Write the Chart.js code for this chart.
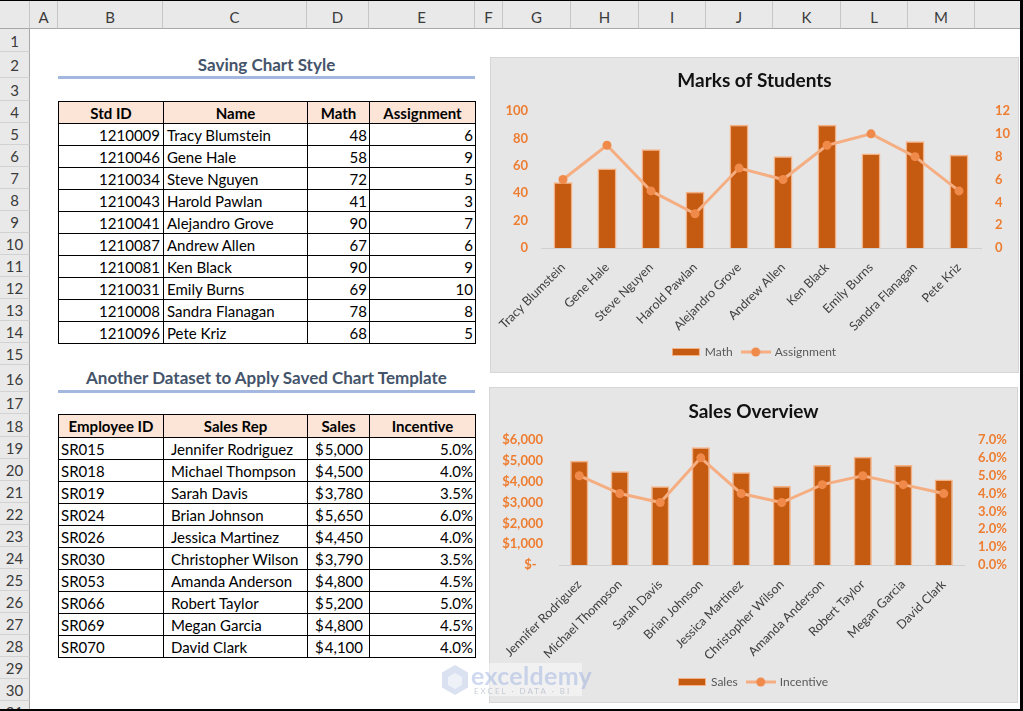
<!DOCTYPE html>
<html>
<head>
<meta charset="utf-8">
<script src="https://cdn.jsdelivr.net/npm/chart.js@4.4.0/dist/chart.umd.min.js"></script>
<style>
html, body { margin: 0; padding: 0; background: #fff; }
#sheet { position: relative; width: 1023px; height: 711px; overflow: hidden; font-family: Lato, 'Noto Sans', sans-serif; }
.hd { position: absolute; box-sizing: border-box; background: #e9e9e9; color: #3b3b3b; font-size: 15px; text-align: center; }
.cell { position: absolute; box-sizing: border-box; border: 1px solid #000; font-size: 15px; color: #000; white-space: nowrap; overflow: hidden; }
.th { background: #fce4d6; font-weight: bold; text-align: center; }
.title { position: absolute; box-sizing: border-box; color: #44546a; font-weight: bold; font-size: 17px; text-align: center; border-bottom: 3px solid #a4b7df; }
.chartbox { position: absolute; background: #e7e6e6; box-shadow: inset 0 0 0 1px #d6d6d6; }
.chartbox canvas { position: absolute; left: 0; top: 0; }
#frame { position: absolute; left: 0; top: 0; width: 1023px; height: 711px; box-sizing: border-box; border-top: 1px solid #000; border-right: 3px solid #000; border-bottom: 2px solid #000; pointer-events: none; }
#wm { position: absolute; left: 438px; top: 663px; width: 144px; height: 33px; background: rgba(255,255,255,0.45); }
</style>
</head>
<body>
<div id="sheet">
  <div class="chartbox" style="left:490px;top:57px;width:529px;height:316px;"><canvas id="marksChart" width="529" height="316"></canvas></div>
  <div class="chartbox" style="left:489px;top:387px;width:529px;height:316px;"><canvas id="salesChart" width="529" height="316"></canvas></div>
  <div id="wm">
    <svg width="30" height="32" style="position:absolute;left:2px;top:1px" viewBox="0 0 30 32">
      <polygon points="15,1 28,8.5 28,23.5 15,31 2,23.5 2,8.5" fill="rgba(150,170,215,0.35)"/>
      <polygon points="15,9 22,13 22,21 15,25 8,21 8,13" fill="rgba(255,255,255,0.55)"/>
    </svg>
    <div style="position:absolute;left:33px;top:-3px;font-size:25px;font-weight:bold;color:rgba(140,165,220,0.42);letter-spacing:0.3px">exceldemy</div>
    <div style="position:absolute;left:36px;top:23px;font-size:8px;color:rgba(150,160,180,0.5);letter-spacing:2px">EXCEL · DATA · BI</div>
  </div>
  <div id="frame"></div>
</div>
<script>
// ---- data: first dataset (students) ----
const stdIds = ['1210009', '1210046', '1210034', '1210043', '1210041', '1210087', '1210081', '1210031', '1210008', '1210096'];
const students = ['Tracy Blumstein', 'Gene Hale', 'Steve Nguyen', 'Harold Pawlan', 'Alejandro Grove', 'Andrew Allen', 'Ken Black', 'Emily Burns', 'Sandra Flanagan', 'Pete Kriz'];
const mathMarks = [48, 58, 72, 41, 90, 67, 90, 69, 78, 68];
const assignment = [6, 9, 5, 3, 7, 6, 9, 10, 8, 5];

// ---- data: second dataset (sales) ----
const empIds = ['SR015', 'SR018', 'SR019', 'SR024', 'SR026', 'SR030', 'SR053', 'SR066', 'SR069', 'SR070'];
const salesReps = ['Jennifer Rodriguez', 'Michael Thompson', 'Sarah Davis', 'Brian Johnson', 'Jessica Martinez', 'Christopher Wilson', 'Amanda Anderson', 'Robert Taylor', 'Megan Garcia', 'David Clark'];
const sales = [5000, 4500, 3780, 5650, 4450, 3790, 4800, 5200, 4800, 4100];
const incentive = [5.0, 4.0, 3.5, 6.0, 4.0, 3.5, 4.5, 5.0, 4.5, 4.0];

// axis ranges [min, max, step]
const marksAxis = [0, 100, 20];
const assignAxis = [0, 12, 2];
const salesAxis = [0, 6000, 1000];
const incentiveAxis = [0, 7, 1];

// ---- sheet grid ----
const sheet = document.getElementById('sheet');
const colEdges = [30, 58, 163, 307, 369, 475, 503, 571, 639, 706, 773, 841, 908, 975, 1043];
const colNames = 'ABCDEFGHIJKLMN'.split('');
const rowEdges = [29, 52, 78, 101, 123, 145, 167, 189, 211, 233, 255, 277, 299, 321, 343, 365, 392, 414, 437, 459, 481, 503, 525, 547, 569, 591, 613, 635, 657, 679, 701, 723];

function el(cls, style, text) {
    const d = document.createElement('div');
    d.className = cls;
    Object.assign(d.style, style);
    if (text !== undefined) d.textContent = text;
    sheet.insertBefore(d, sheet.firstChild);
    return d;
}

// column headers
el('hd', { left: '0px', top: '0px', width: '30px', height: '29px', borderRight: '1px solid #c6c6c6', borderBottom: '1px solid #a8a8a8' });
el('', { position: 'absolute', left: '13px', top: '13px', width: '0', height: '0', borderLeft: '13px solid transparent', borderBottom: '13px solid #c4c4c4' });
for (let i = 0; i < colEdges.length - 1; i++) {
    const w = colEdges[i + 1] - colEdges[i];
    el('hd', { left: colEdges[i] + 'px', top: '0px', width: w + 'px', height: '29px', lineHeight: '34px',
        borderRight: '1px solid #c6c6c6', borderBottom: '1px solid #a8a8a8' }, i < 13 ? colNames[i] : '');
}
// row headers
for (let r = 0; r < rowEdges.length - 1; r++) {
    const h = rowEdges[r + 1] - rowEdges[r];
    el('hd', { left: '0px', top: rowEdges[r] + 'px', width: '30px', height: h + 'px', lineHeight: (h + 1) + 'px',
        borderRight: '1px solid #a8a8a8', borderBottom: '1px solid #d2d2d2' }, String(r + 1));
}

// titles
el('title', { left: '58px', top: '52px', width: '417px', height: '27px', lineHeight: '25px' }, 'Saving Chart Style');
el('title', { left: '58px', top: '365px', width: '417px', height: '28px', lineHeight: '26px' }, 'Another Dataset to Apply Saved Chart Template');

// tables
function cell(x0, x1, y0, y1, text, cls, style) {
    const d = el('cell ' + (cls || ''), Object.assign({ left: x0 + 'px', top: y0 + 'px', width: (x1 - x0 + 1) + 'px',
        height: (y1 - y0 + 1) + 'px', lineHeight: (y1 - y0) + 'px' }, style || {}));
    if (typeof text === 'string') d.textContent = text; else d.appendChild(text);
    return d;
}
const tx = [58, 163, 307, 369, 475];
['Std ID', 'Name', 'Math', 'Assignment'].forEach((h, i) => cell(tx[i], tx[i + 1], 101, 123, h, 'th'));
students.forEach((n, r) => {
    const y0 = 123 + r * 22, y1 = y0 + 22;
    cell(tx[0], tx[1], y0, y1, stdIds[r], '', { textAlign: 'right', paddingRight: '3px' });
    cell(tx[1], tx[2], y0, y1, n, '', { paddingLeft: '3px' });
    cell(tx[2], tx[3], y0, y1, String(mathMarks[r]), '', { textAlign: 'right', paddingRight: '2px' });
    cell(tx[3], tx[4], y0, y1, String(assignment[r]), '', { textAlign: 'right', paddingRight: '2px' });
});
['Employee ID', 'Sales Rep', 'Sales', 'Incentive'].forEach((h, i) => cell(tx[i], tx[i + 1], 414, 437, h, 'th'));
salesReps.forEach((n, r) => {
    const y0 = 437 + r * 22, y1 = y0 + 22;
    cell(tx[0], tx[1], y0, y1, empIds[r], '', { paddingLeft: '2px' });
    cell(tx[1], tx[2], y0, y1, n, '', { paddingLeft: '7px' });
    const acc = document.createElement('div');
    acc.style.cssText = 'display:flex;justify-content:space-between;padding:0 6px 0 7px;';
    acc.innerHTML = '<span>$</span><span>' + sales[r].toLocaleString('en-US') + '</span>';
    cell(tx[2], tx[3], y0, y1, acc);
    cell(tx[3], tx[4], y0, y1, incentive[r].toFixed(1) + '%', '', { textAlign: 'right', paddingRight: '2px' });
});

// ---- charts ----
Chart.defaults.font.family = 'Lato, sans-serif';
const BAR = '#c55a11', BAR_EDGE = '#f4b183', LINE = '#f5ae82', DOT = '#f08a4b', TICK = '#ed7d31';

function swatch(kind) {
    const c = document.createElement('canvas');
    const g = c.getContext('2d');
    if (kind === 'bar') {
        c.width = 28; c.height = 8;
        g.fillStyle = BAR_EDGE; g.fillRect(0, 0, 28, 8);
        g.fillStyle = BAR; g.fillRect(1, 1, 26, 6);
    } else {
        c.width = 30; c.height = 10;
        g.strokeStyle = LINE; g.lineWidth = 3;
        g.beginPath(); g.moveTo(0, 5); g.lineTo(30, 5); g.stroke();
        g.fillStyle = DOT; g.beginPath(); g.arc(15, 5, 4.5, 0, Math.PI * 2); g.fill();
    }
    return c;
}

function comboChart(id, o) {
    return new Chart(document.getElementById(id), {
        data: {
            labels: o.labels,
            datasets: [
                { type: 'bar', label: o.barLabel, data: o.bars, yAxisID: 'y', order: 2,
                  backgroundColor: BAR, borderColor: BAR_EDGE, borderWidth: 1.5,
                  categoryPercentage: 1, barPercentage: o.barPct },
                { type: 'line', label: o.lineLabel, data: o.line, yAxisID: 'y1', order: 1,
                  borderColor: LINE, borderWidth: 3, pointRadius: 4.5, pointBackgroundColor: DOT,
                  pointBorderColor: DOT, pointBorderWidth: 0, tension: 0 }
            ]
        },
        options: {
            responsive: false,
            animation: false,
            layout: { padding: { left: 0, right: 0, top: 0, bottom: 5 } },
            plugins: {
                title: { display: true, text: o.title, color: '#111', font: { size: 19, weight: 'bold' },
                         padding: { top: o.titleTop, bottom: o.titleBottom } },
                legend: {
                    position: 'bottom',
                    labels: {
                        usePointStyle: true, pointStyleWidth: 26, color: '#595959', font: { size: 12 }, padding: 10,
                        generateLabels: ch => ch.data.datasets.map((ds, i) => ({
                            text: ds.label, datasetIndex: i, hidden: false, fontColor: '#595959',
                            pointStyle: swatch(i === 0 ? 'bar' : 'line'), lineWidth: 0
                        }))
                    }
                },
                tooltip: { enabled: false }
            },
            scales: {
                x: {
                    grid: { display: false },
                    border: { display: true, color: '#d0d0d0' },
                    ticks: { color: '#404040', font: { size: 12.5 }, minRotation: 45, maxRotation: 45, autoSkip: false, padding: 4 },
                    afterFit: s => { s.height = o.xHeight; }
                },
                y: {
                    position: 'left', min: o.yAxis[0], max: o.yAxis[1],
                    grid: { display: false, drawTicks: false }, border: { display: false },
                    ticks: { stepSize: o.yAxis[2], autoSkip: false, color: TICK, font: { size: 13, weight: 'bold' }, padding: o.yPad, callback: o.yFmt },
                    afterFit: s => { s.width = o.yWidth; }
                },
                y1: {
                    position: 'right', min: o.y1Axis[0], max: o.y1Axis[1],
                    grid: { display: false, drawTicks: false }, border: { display: false },
                    ticks: { stepSize: o.y1Axis[2], autoSkip: false, color: TICK, font: { size: 13, weight: 'bold' }, padding: o.y1Pad, callback: o.y1Fmt },
                    afterFit: s => { s.width = o.y1Width; }
                }
            }
        }
    });
}

comboChart('marksChart', {
    labels: students, bars: mathMarks, line: assignment,
    barLabel: 'Math', lineLabel: 'Assignment', title: 'Marks of Students',
    yAxis: marksAxis, y1Axis: assignAxis, barPct: 0.43,
    titleTop: 12.5, titleBottom: 18.7, xHeight: 88,
    yWidth: 51, yPad: 13, y1Width: 38, y1Pad: 14,
    yFmt: v => v, y1Fmt: v => v
});

comboChart('salesChart', {
    labels: salesReps, bars: sales, line: incentive,
    barLabel: 'Sales', lineLabel: 'Incentive', title: 'Sales Overview',
    yAxis: salesAxis, y1Axis: incentiveAxis, barPct: 0.45,
    titleTop: 13.5, titleBottom: 16.7, xHeight: 101,
    yWidth: 70, yPad: 16, y1Width: 54, y1Pad: 14,
    yFmt: v => v === 0 ? '$-  ' : '$' + v.toLocaleString('en-US'),
    y1Fmt: v => v.toFixed(1) + '%'
});
</script>
</body>
</html>
